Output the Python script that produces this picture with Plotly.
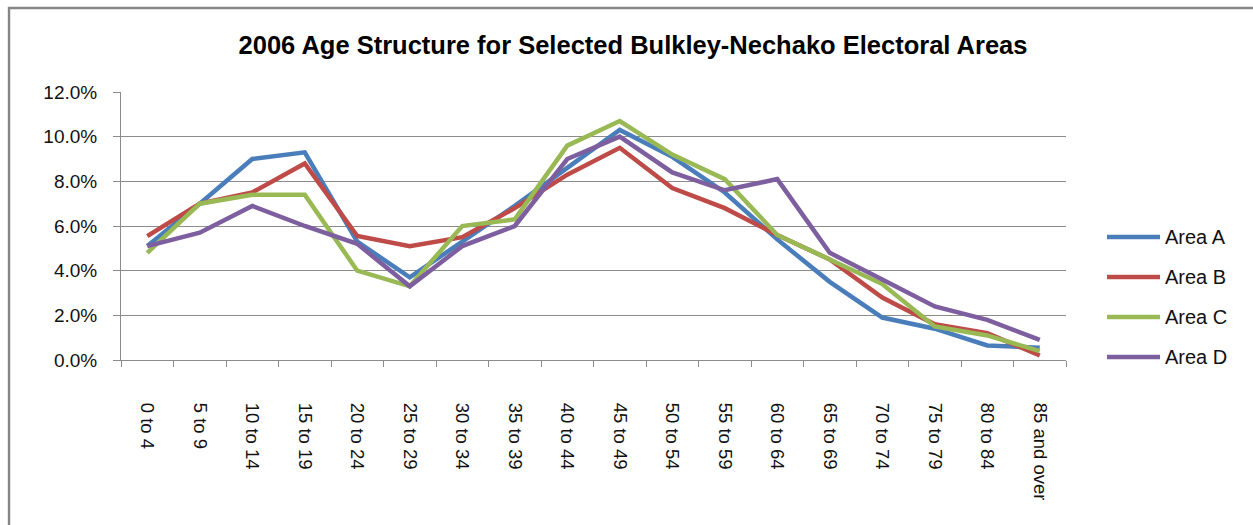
import plotly.graph_objects as go

# Age groups (x categories)
age_groups = ["0 to 4", "5 to 9", "10 to 14", "15 to 19", "20 to 24", "25 to 29",
              "30 to 34", "35 to 39", "40 to 44", "45 to 49", "50 to 54", "55 to 59",
              "60 to 64", "65 to 69", "70 to 74", "75 to 79", "80 to 84", "85 and over"]

# Share of population in each age group, in percent
area_a = [5.1, 7.0, 9.0, 9.3, 5.3, 3.7, 5.3, 6.9, 8.6, 10.3, 9.1, 7.5, 5.4, 3.5, 1.9, 1.4, 0.65, 0.55]
area_b = [5.55, 7.0, 7.5, 8.8, 5.55, 5.1, 5.5, 6.8, 8.3, 9.5, 7.7, 6.8, 5.6, 4.5, 2.8, 1.6, 1.2, 0.2]
area_c = [4.8, 7.0, 7.4, 7.4, 4.0, 3.3, 6.0, 6.3, 9.6, 10.7, 9.2, 8.1, 5.6, 4.5, 3.4, 1.5, 1.1, 0.4]
area_d = [5.1, 5.7, 6.9, 6.0, 5.2, 3.3, 5.1, 6.0, 9.0, 10.0, 8.4, 7.6, 8.1, 4.8, 3.6, 2.4, 1.8, 0.9]

series_names = ["Area A", "Area B", "Area C", "Area D"]
series_values = [area_a, area_b, area_c, area_d]
colors = ["#4A7EBB", "#BE4B48", "#98B954", "#7D5FA0"]

y_ticks = [0, 0.02, 0.04, 0.06, 0.08, 0.10, 0.12]

FONT = "Liberation Sans, Arial, sans-serif"
GRID = "#8C8C8C"

fig = go.Figure()
for name, vals, col in zip(series_names, series_values, colors):
    fig.add_trace(go.Scatter(
        x=age_groups, y=[v / 100 for v in vals], name=name, mode="lines",
        line=dict(color=col, width=4.5), showlegend=False,
    ))

# Hand-built legend on the right: a short line and a label per series
legend_x0, legend_x1, legend_tx = 1.0434, 1.0995, 1.1026
legend_y = [0.459, 0.3097, 0.1604, 0.0112]
shapes = []
annotations = []
for name, col, ly in zip(series_names, colors, legend_y):
    shapes.append(dict(type="line", xref="paper", yref="paper",
                       x0=legend_x0, x1=legend_x1, y0=ly, y1=ly,
                       line=dict(color=col, width=4.5)))
    annotations.append(dict(xref="paper", yref="paper", x=legend_tx, y=ly,
                            text=name, showarrow=False, xanchor="left", yanchor="middle",
                            font=dict(family=FONT, size=20, color="#111111")))

# Chart frame (left and top edges)
shapes.append(dict(type="path", xref="paper", yref="paper",
                   path="M -0.1185,-0.65 L -0.1185,1.3134 L 1.25,1.3134",
                   line=dict(color="#858585", width=2.4)))

fig.update_layout(
    width=1253, height=525,
    margin=dict(l=121, r=187, t=92, b=165, autoexpand=False),
    paper_bgcolor="white", plot_bgcolor="white",
    title=dict(text="<b>2006 Age Structure for Selected Bulkley-Nechako Electoral Areas</b>",
               x=633 / 1253, xanchor="center", y=1 - 45 / 525, yanchor="middle",
               font=dict(family=FONT, size=25.5, color="#000000")),
    shapes=shapes, annotations=annotations,
    showlegend=False,
)

fig.update_xaxes(
    type="category", tickson="boundaries", ticks="outside", ticklen=6,
    tickcolor=GRID, showline=True, linecolor=GRID, linewidth=1,
    showgrid=False, tickangle=90, ticklabelstandoff=38,
    tickfont=dict(family=FONT, size=18.5, color="#111111"),
    range=[-0.5, len(age_groups) - 0.5],
)
fig.update_yaxes(
    range=[0, 0.12], tickvals=y_ticks, tickformat=".1%",
    ticks="outside", ticklen=7, tickcolor=GRID,
    showline=True, linecolor=GRID, linewidth=1,
    showgrid=True, gridcolor=GRID, gridwidth=1, zeroline=False,
    ticklabelstandoff=12,
    tickfont=dict(family=FONT, size=19, color="#111111"),
)

fig.write_html("out.html")
